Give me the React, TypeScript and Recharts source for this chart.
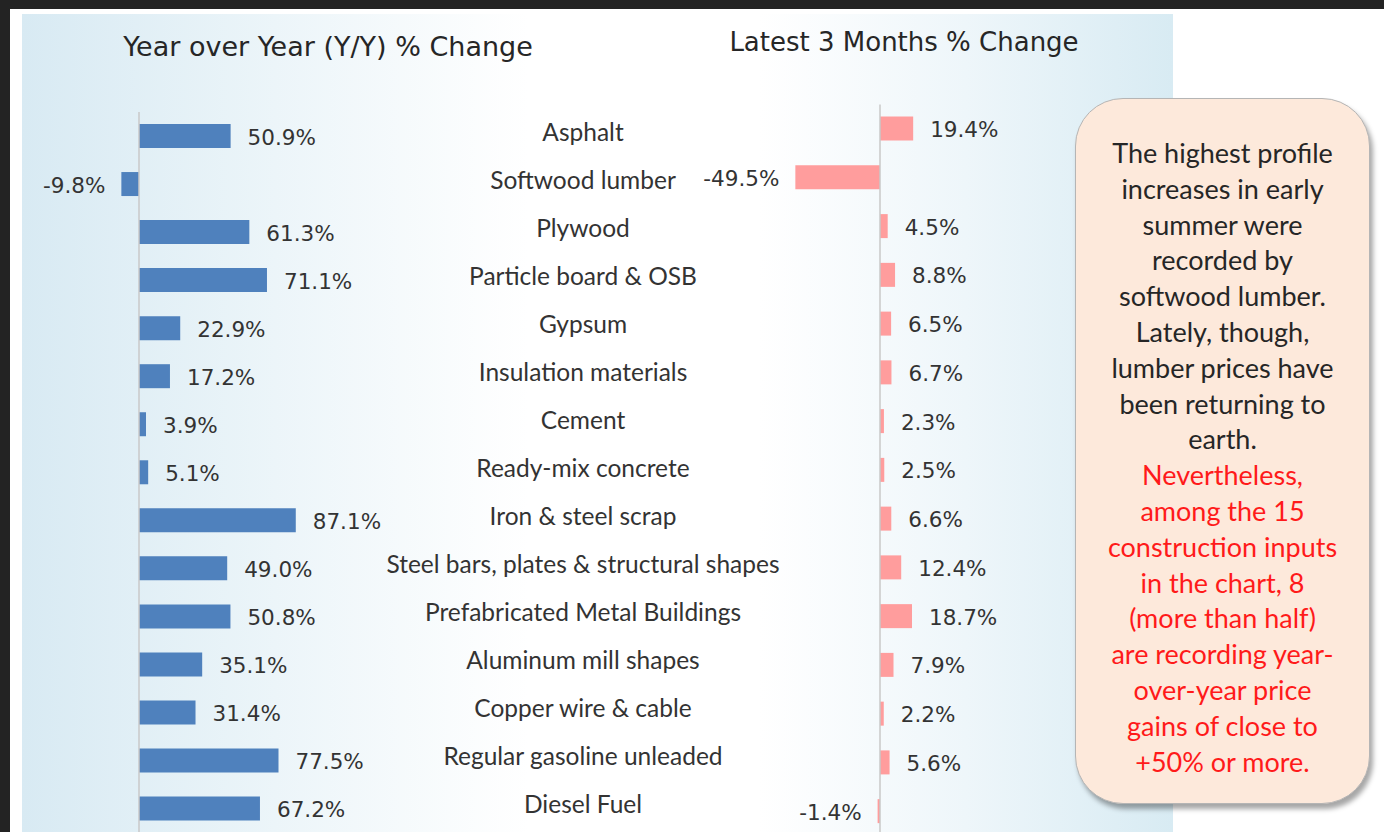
import React from 'react';
import { BarChart, Bar, XAxis, YAxis, ReferenceLine, LabelList } from 'recharts';

const categories = [
  'Asphalt',
  'Softwood lumber',
  'Plywood',
  'Particle board & OSB',
  'Gypsum',
  'Insulation materials',
  'Cement',
  'Ready-mix concrete',
  'Iron & steel scrap',
  'Steel bars, plates & structural shapes',
  'Prefabricated Metal Buildings',
  'Aluminum mill shapes',
  'Copper wire & cable',
  'Regular gasoline unleaded',
  'Diesel Fuel',
];
const yoyChange = [50.9, -9.8, 61.3, 71.1, 22.9, 17.2, 3.9, 5.1, 87.1, 49.0, 50.8, 35.1, 31.4, 77.5, 67.2];
const threeMonthChange = [19.4, -49.5, 4.5, 8.8, 6.5, 6.7, 2.3, 2.5, 6.6, 12.4, 18.7, 7.9, 2.2, 5.6, -1.4];

const leftTitle = 'Year over Year (Y/Y) % Change';
const rightTitle = 'Latest 3 Months % Change';

const calloutBlack = [
  'The highest profile',
  'increases in early',
  'summer were',
  'recorded by',
  'softwood lumber.',
  'Lately, though,',
  'lumber prices have',
  'been returning to',
  'earth.',
];
const calloutRed = [
  'Nevertheless,',
  'among the 15',
  'construction inputs',
  'in the chart, 8',
  '(more than half)',
  'are recording year-',
  'over-year price',
  'gains of close to',
  '+50% or more.',
];

const data = categories.map((name, i) => ({ name, yoy: yoyChange[i], m3: threeMonthChange[i] }));

const VALUE_FONT = '"DejaVu Sans", sans-serif';
const TEXT_FONT = 'Lato, "Open Sans", sans-serif';

const ValueLabel = (props: any) => {
  const { x, y, width, height, value } = props;
  const v = Number(value);
  const x0 = Number(x);
  const w = Number(width);
  const left = Math.min(x0, x0 + w);
  const right = Math.max(x0, x0 + w);
  const cy = Number(y) + Number(height) / 2 + 1;
  const neg = v < 0;
  return (
    <text
      x={neg ? left - 16 : right + 17}
      y={cy}
      textAnchor={neg ? 'end' : 'start'}
      dominantBaseline="central"
      fontFamily={VALUE_FONT}
      fontSize={21.5}
      fill="#333333"
    >
      {v.toFixed(1) + '%'}
    </text>
  );
};

const CategoryTick = (props: any) => {
  const { y, payload } = props;
  return (
    <text
      x={583}
      y={Number(y) - 5}
      textAnchor="middle"
      dominantBaseline="central"
      fontFamily={TEXT_FONT}
      fontSize={24.5}
      fill="#333333"
    >
      {payload.value}
    </text>
  );
};

export default function App() {
  return (
    <div
      style={{
        position: 'fixed',
        left: 0,
        top: 0,
        width: 1384,
        height: 832,
        overflow: 'hidden',
        background: '#ffffff',
      }}
    >
      {/* dark frame */}
      <div style={{ position: 'absolute', left: 0, top: 0, width: 1384, height: 9, background: '#232323' }} />
      <div style={{ position: 'absolute', left: 0, top: 0, width: 10, height: 832, background: '#232323' }} />
      {/* gradient panel */}
      <div
        style={{
          position: 'absolute',
          left: 22,
          top: 14,
          width: 1151,
          height: 830,
          background:
            'linear-gradient(to right, #d8eaf3 0%, #ecf5f9 22%, #ffffff 44%, #ffffff 64%, #eef6fa 82%, #d8ebf3 100%)',
        }}
      />
      {/* titles */}
      <div
        style={{
          position: 'absolute',
          left: 28,
          top: 29,
          width: 600,
          height: 36,
          lineHeight: '36px',
          textAlign: 'center',
          fontFamily: VALUE_FONT,
          fontSize: 27,
          color: '#262626',
        }}
      >
        {leftTitle}
      </div>
      <div
        style={{
          position: 'absolute',
          left: 604,
          top: 24,
          width: 600,
          height: 36,
          lineHeight: '36px',
          textAlign: 'center',
          fontFamily: VALUE_FONT,
          fontSize: 26,
          color: '#262626',
        }}
      >
        {rightTitle}
      </div>

      {/* left chart: Y/Y change + category labels */}
      <div style={{ position: 'absolute', left: 0, top: 0 }}>
        <BarChart
          width={880}
          height={860}
          data={data}
          layout="vertical"
          margin={{ top: 112, right: 0, bottom: 27.4, left: 103 }}
        >
          <XAxis type="number" domain={[-20, 100]} hide />
          <YAxis
            type="category"
            dataKey="name"
            orientation="right"
            width={561}
            axisLine={false}
            tickLine={false}
            interval={0}
            tick={<CategoryTick />}
          />
          <ReferenceLine x={0} stroke="#c9c9c9" strokeWidth={1.5} />
          <Bar dataKey="yoy" fill="#4f81bd" barSize={24} isAnimationActive={false}>
            <LabelList dataKey="yoy" content={<ValueLabel />} />
          </Bar>
        </BarChart>
      </div>

      {/* right chart: latest 3 months */}
      <div style={{ position: 'absolute', left: 700, top: 0 }}>
        <BarChart
          width={400}
          height={860}
          data={data}
          layout="vertical"
          margin={{ top: 104.6, right: 151.6, bottom: 24.1, left: 77.4 }}
        >
          <XAxis type="number" domain={[-60, 40]} hide />
          <YAxis type="category" dataKey="name" hide />
          <ReferenceLine x={0} stroke="#c9c9c9" strokeWidth={1.5} />
          <Bar dataKey="m3" fill="#ff9d9d" barSize={24} isAnimationActive={false}>
            <LabelList dataKey="m3" content={<ValueLabel />} />
          </Bar>
        </BarChart>
      </div>

      {/* callout */}
      <div
        style={{
          position: 'absolute',
          left: 1075,
          top: 98,
          width: 295,
          height: 706,
          boxSizing: 'border-box',
          borderRadius: 48,
          background: '#fde9db',
          border: '1.5px solid #b5b5b5',
          boxShadow: '3px 5px 5px rgba(0,0,0,0.35)',
          paddingTop: 36,
          fontFamily: TEXT_FONT,
          fontSize: 27,
          textAlign: 'center',
        }}
      >
        {calloutBlack.map((t, i) => (
          <div key={'b' + i} style={{ height: 35.8, lineHeight: '35.8px', color: '#262626', whiteSpace: 'nowrap' }}>
            {t}
          </div>
        ))}
        {calloutRed.map((t, i) => (
          <div key={'r' + i} style={{ height: 35.8, lineHeight: '35.8px', color: '#ff1a1a', whiteSpace: 'nowrap' }}>
            {t}
          </div>
        ))}
      </div>
    </div>
  );
}
